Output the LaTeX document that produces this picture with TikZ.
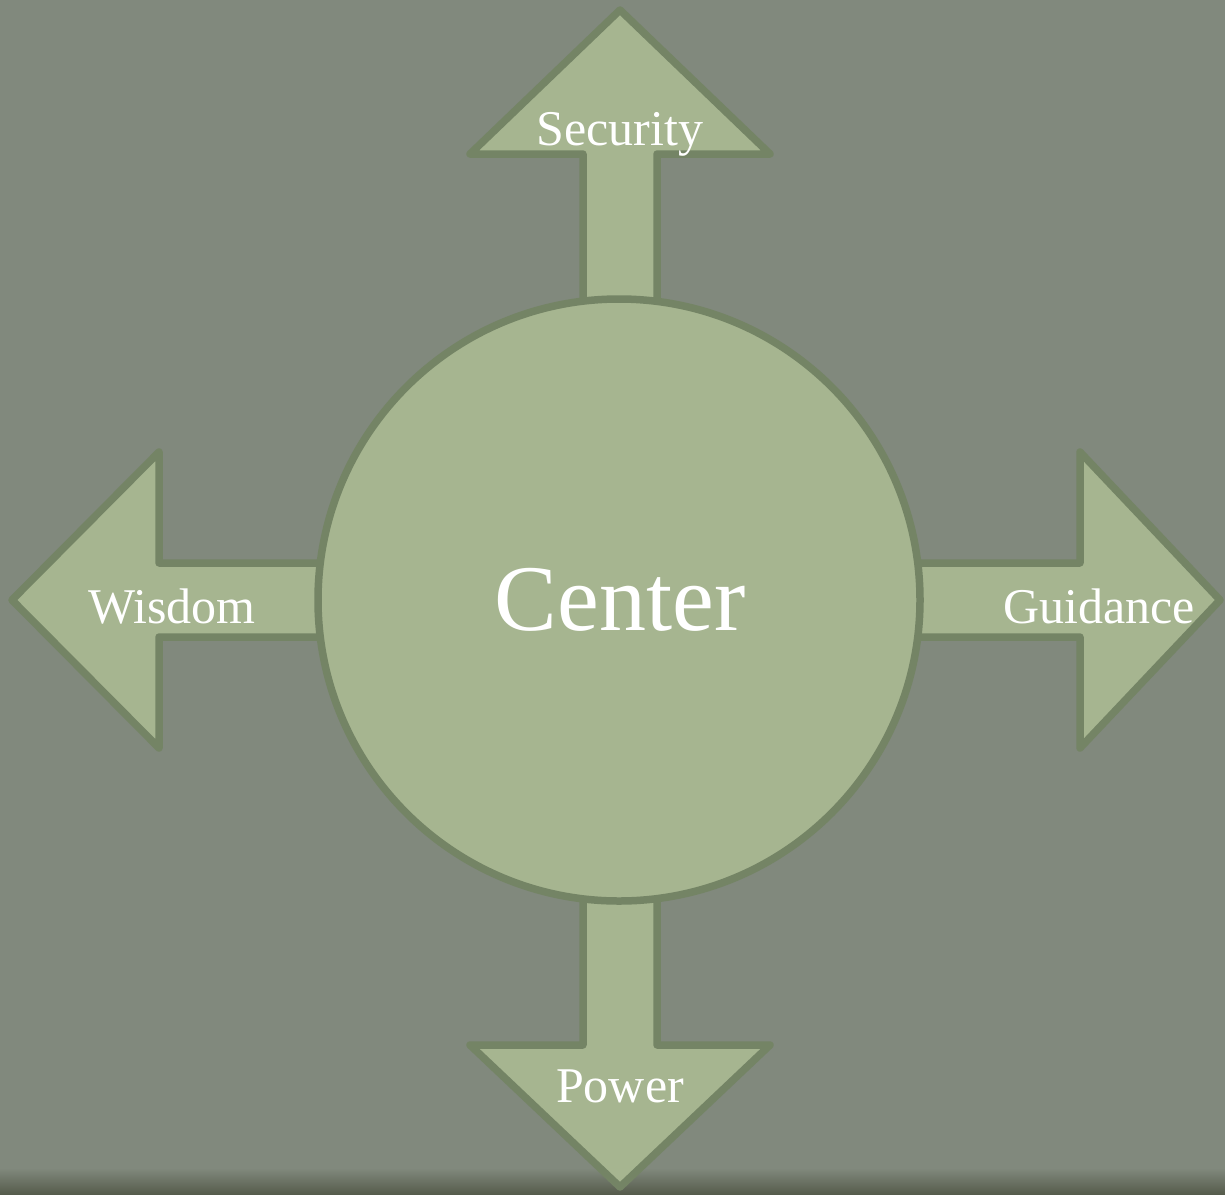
\documentclass[tikz,border=0pt]{standalone}
\usepackage{fontspec}
\setmainfont{Liberation Serif}
\definecolor{bgc}{RGB}{129,137,125}
\definecolor{bgdark}{RGB}{86,92,76}
\definecolor{shapefill}{RGB}{166,181,144}
\definecolor{shapeline}{RGB}{116,132,101}
\tikzset{
  arrowshape/.style={fill=shapefill, draw=shapeline, line width=7.5pt, line join=round},
  hubcircle/.style={circle, fill=shapefill, draw=shapeline, line width=7.5pt, minimum size=602pt, inner sep=0pt},
  lbl/.style={text=white, font=\fontsize{50}{55}\selectfont, inner sep=0pt, anchor=base},
}
\begin{document}
\begin{tikzpicture}[x=1pt,y=-1pt]
\useasboundingbox (0,0) rectangle (1225,1194);
\fill[bgc] (0,0) rectangle (1225,1194);
\fill[bottom color=bgdark, top color=bgc] (0,1168) rectangle (1225,1194);
% arrows
\draw[arrowshape] (583,320) -- (583,154) -- (470,154) -- (620,10) -- (770,154) -- (657,154) -- (657,320) -- cycle;
\draw[arrowshape] (583,880) -- (583,1045) -- (470,1045) -- (620,1187) -- (770,1045) -- (657,1045) -- (657,880) -- cycle;
\draw[arrowshape] (330,563) -- (159,563) -- (159,452) -- (12,600) -- (159,748) -- (159,637) -- (330,637) -- cycle;
\draw[arrowshape] (900,563) -- (1080,563) -- (1080,452) -- (1220,600) -- (1080,748) -- (1080,637) -- (900,637) -- cycle;
% circle
\node[hubcircle] (center) at (619,600) {};
\node[lbl, font=\fontsize{94}{100}\selectfont] (centerlbl) at (620,630) {Center};
\node[lbl] (security) at (620,145) {Security};
\node[lbl] (power) at (620,1102) {Power};
\node[lbl] (wisdom) at (172,623) {Wisdom};
\node[lbl] (guidance) at (1099,623) {Guidance};
\end{tikzpicture}
\end{document}
